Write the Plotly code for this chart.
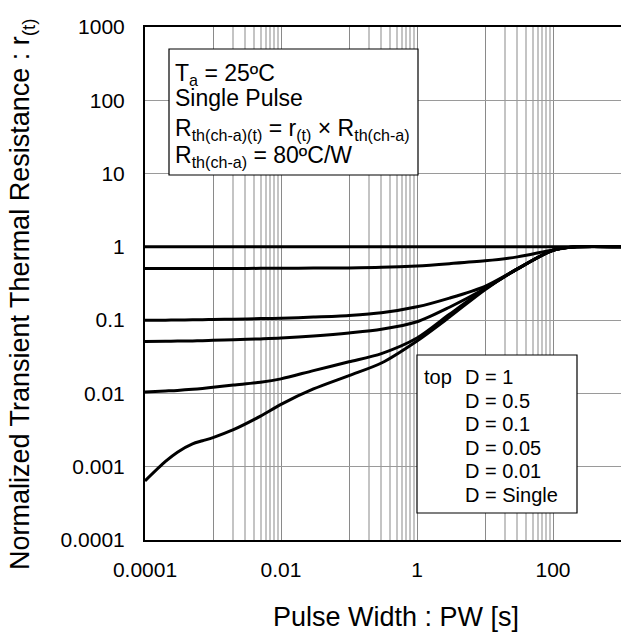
import plotly.graph_objects as go

# ---- data ----
pw = [1e-4, 2e-4, 3e-4, 5e-4, 7e-4, 1e-3, 2e-3, 5e-3, 1e-2, 3e-2, 1e-1, 3e-1, 1, 3, 10, 30, 100, 200, 1000]
r_d1 = [1.0, 1.0, 1.0, 1.0, 1.0, 1.0, 1.0, 1.0, 1.0, 1.0, 1.0, 1.0, 1.0, 1.0, 1.0, 1.0, 1.0, 1.0, 1.0]
r_d05 = [0.505, 0.505, 0.505, 0.505, 0.505, 0.506, 0.507, 0.509, 0.51, 0.513, 0.516, 0.525, 0.55, 0.59, 0.645, 0.73, 0.91, 0.995, 1.0]
r_d01 = [0.1, 0.1, 0.1005, 0.101, 0.1015, 0.102, 0.103, 0.105, 0.106, 0.11, 0.116, 0.126, 0.152, 0.2, 0.29, 0.5, 0.9, 0.995, 1.0]
r_d005 = [0.051, 0.0515, 0.0518, 0.052, 0.0525, 0.053, 0.054, 0.0555, 0.057, 0.061, 0.067, 0.075, 0.095, 0.15, 0.27, 0.5, 0.9, 0.995, 1.0]
r_d001 = [0.0105, 0.0108, 0.011, 0.0114, 0.0117, 0.0121, 0.013, 0.0142, 0.0158, 0.0205, 0.027, 0.035, 0.057, 0.12, 0.265, 0.5, 0.9, 0.995, 1.0]
r_single = [0.00064, 0.00118, 0.00158, 0.00205, 0.00226, 0.0025, 0.0032, 0.0049, 0.0071, 0.0115, 0.0175, 0.026, 0.052, 0.11, 0.26, 0.5, 0.9, 0.995, 1.0]
series = [r_d1, r_d05, r_d01, r_d005, r_d001, r_single]

x_major = [1e-4, 1e-3, 1e-2, 1e-1, 1, 10, 100, 1000]
x_major_text = ["0.0001", "", "0.01", "", "1", "", "100", ""]
x_minor = [m * d for d in (1e-3, 1e-1, 10) for m in (2, 3, 4, 5, 6, 7, 8, 9)]
y_major = [1e-4, 1e-3, 1e-2, 1e-1, 1, 10, 100, 1000]
y_major_text = ["0.0001", "0.001", "0.01", "0.1", "1", "10", "100", "1000"]

legend_labels = ["D = 1", "D = 0.5", "D = 0.1", "D = 0.05", "D = 0.01", "D = Single"]
info_lines = [
    "T<sub>a</sub> = 25ºC",
    "Single Pulse",
    "R<sub>th(ch-a)(t)</sub> = r<sub>(t)</sub> × R<sub>th(ch-a)</sub>",
    "R<sub>th(ch-a)</sub> = 80ºC/W",
]

FONT = "Arial, 'Liberation Sans', sans-serif"
L, T, W, H = 145, 27, 476, 513


def px(xp):
    return (xp - L) / W


def py(yp):
    return (T + H - yp) / H


fig = go.Figure()
for s in series:
    fig.add_trace(go.Scatter(x=pw, y=s, mode="lines", line=dict(color="black", width=3, shape="spline", smoothing=0.8),
                             showlegend=False, hoverinfo="skip"))

fig.update_layout(
    width=621, height=639,
    margin=dict(l=L, r=621 - L - W, t=T, b=639 - T - H),
    paper_bgcolor="white", plot_bgcolor="white",
    font=dict(family=FONT, size=21, color="black"),
    xaxis=dict(type="log", range=[-4, 3], tickmode="array", tickvals=x_major, ticktext=x_major_text,
               showgrid=True, gridcolor="#8a8a8a", gridwidth=1, ticks="", ticklabelstandoff=10,
               showline=True, linecolor="black", linewidth=2, mirror=True, zeroline=False,
               minor=dict(tickmode="array", tickvals=x_minor, showgrid=True, gridcolor="#c4c4c4", gridwidth=1.5, ticks="")),
    yaxis=dict(type="log", range=[-4, 3], tickmode="array", tickvals=y_major, ticktext=y_major_text,
               showgrid=True, gridcolor="#9a9a9a", gridwidth=1, ticks="", ticklabelstandoff=14,
               showline=True, linecolor="black", linewidth=2, mirror=False, zeroline=False),
)

# axis titles
fig.add_annotation(text="Pulse Width : PW [s]", xref="paper", yref="paper", x=px(396), y=py(617),
                   xanchor="center", yanchor="middle", showarrow=False, font=dict(size=27))
fig.add_annotation(text="Normalized Transient Thermal Resistance : r<sub>(t)</sub>", xref="paper", yref="paper",
                   x=px(22), y=py(294), xanchor="center", yanchor="middle", textangle=-90, showarrow=False,
                   font=dict(size=27))

# info box
fig.add_shape(type="rect", xref="paper", yref="paper", x0=px(169), x1=px(418), y0=py(49), y1=py(175),
              line=dict(color="black", width=1.2), fillcolor="white", layer="above")
info_y = [74, 98, 129, 156]
for t, yy in zip(info_lines, info_y):
    fig.add_annotation(text=t, xref="paper", yref="paper", x=px(173), y=py(yy), xanchor="left", yanchor="middle",
                       showarrow=False, font=dict(size=23), align="left")

# legend box
fig.add_shape(type="rect", xref="paper", yref="paper", x0=px(417), x1=px(577), y0=py(355), y1=py(513),
              line=dict(color="black", width=1.2), fillcolor="white", layer="above")
fig.add_annotation(text="top", xref="paper", yref="paper", x=px(422), y=py(377), xanchor="left", yanchor="middle",
                   showarrow=False, font=dict(size=20))
for i, lab in enumerate(legend_labels):
    fig.add_annotation(text=lab, xref="paper", yref="paper", x=px(463), y=py(377 + i * 23.6), xanchor="left",
                       yanchor="middle", showarrow=False, font=dict(size=20))

fig.write_html("out.html", post_script="document.body.style.margin='0px';",
               config={"displayModeBar": False})
